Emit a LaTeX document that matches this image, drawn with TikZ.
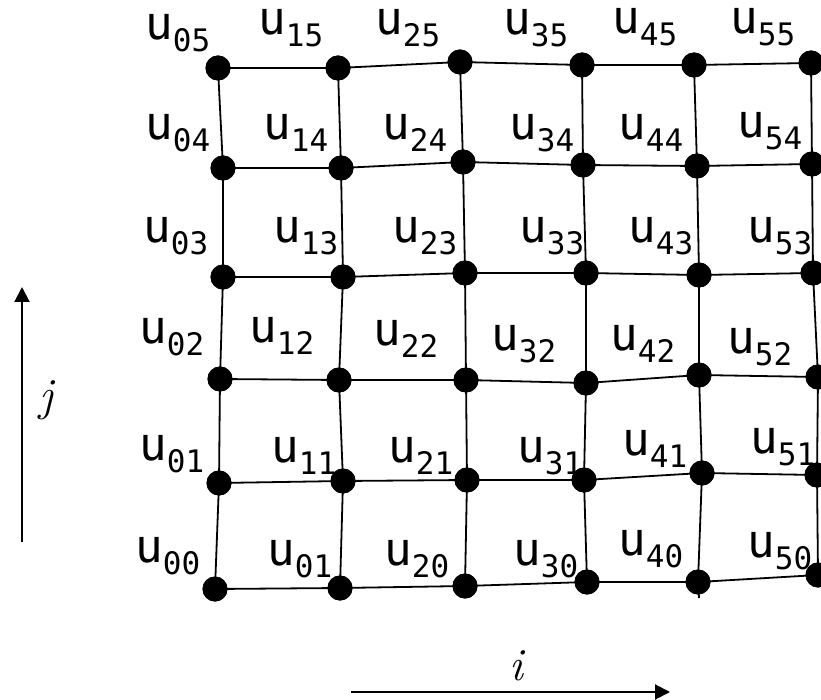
\documentclass[tikz,border=0pt]{standalone}
\usepackage{fontspec}
\newfontfamily\lblfont{DejaVu Sans Mono}
\usetikzlibrary{arrows.meta}
\newcommand{\ulab}[1]{u\raisebox{-12pt}{\fontsize{31}{31}\selectfont #1}}
\tikzset{
  dot/.style={circle,fill=black,inner sep=0pt,minimum size=25pt},
  gridline/.style={line width=1.8pt},
  lbl/.style={anchor=base west,inner sep=0pt,font=\lblfont\fontsize{46}{46}\selectfont},
  axis/.style={line width=2pt,-{Triangle[length=15pt,width=15pt]}},
  axlbl/.style={font=\fontsize{46}{46}\selectfont\itshape}
}
\begin{document}
\begin{tikzpicture}[x=1pt,y=-1pt]
\useasboundingbox (0,0) rectangle (821,700);
% dots
\node[dot] (p05) at (218,68) {};
\node[dot] (p15) at (338,68) {};
\node[dot] (p25) at (460,62) {};
\node[dot] (p35) at (582,65) {};
\node[dot] (p45) at (694,65) {};
\node[dot] (p55) at (811,63) {};
\node[dot] (p04) at (223,168) {};
\node[dot] (p14) at (341,168) {};
\node[dot] (p24) at (463,162) {};
\node[dot] (p34) at (583,165) {};
\node[dot] (p44) at (697,166) {};
\node[dot] (p54) at (812,164) {};
\node[dot] (p03) at (223,277) {};
\node[dot] (p13) at (343,277) {};
\node[dot] (p23) at (465,273) {};
\node[dot] (p33) at (586,273) {};
\node[dot] (p43) at (699,275) {};
\node[dot] (p53) at (813,273) {};
\node[dot] (p02) at (220,379) {};
\node[dot] (p12) at (339,380) {};
\node[dot] (p22) at (466,380) {};
\node[dot] (p32) at (586,383) {};
\node[dot] (p42) at (699,375) {};
\node[dot] (p52) at (818,377) {};
\node[dot] (p01) at (219,483) {};
\node[dot] (p11) at (343,481) {};
\node[dot] (p21) at (467,480) {};
\node[dot] (p31) at (584,480) {};
\node[dot] (p41) at (702,473) {};
\node[dot] (p51) at (817,475) {};
\node[dot] (p00) at (215,589) {};
\node[dot] (p10) at (340,588) {};
\node[dot] (p20) at (465,586) {};
\node[dot] (p30) at (587,582) {};
\node[dot] (p40) at (698,582) {};
\node[dot] (p50) at (818,575) {};
\coordinate (stub) at (699,598);
% grid lines
\foreach \r in {0,...,5}{
  \draw[gridline] (p0\r.center) -- (p1\r.center) -- (p2\r.center) -- (p3\r.center) -- (p4\r.center) -- (p5\r.center);
}
\foreach \c in {0,...,5}{
  \draw[gridline] (p\c0.center) -- (p\c1.center) -- (p\c2.center) -- (p\c3.center) -- (p\c4.center) -- (p\c5.center);
}
\draw[gridline] (p40.center) -- (stub);
% redraw dots on top
\foreach \c in {0,...,5}{\foreach \r in {0,...,5}{\fill (p\c\r) circle (12.5pt);}}
% labels
\node[lbl] (l05) at (145,40) {\ulab{05}};
\node[lbl] (l15) at (258,35) {\ulab{15}};
\node[lbl] (l25) at (375,35) {\ulab{25}};
\node[lbl] (l35) at (503,35) {\ulab{35}};
\node[lbl] (l45) at (612,34) {\ulab{45}};
\node[lbl] (l55) at (730,34) {\ulab{55}};
\node[lbl] (l04) at (145,140) {\ulab{04}};
\node[lbl] (l14) at (263,140) {\ulab{14}};
\node[lbl] (l24) at (382,140) {\ulab{24}};
\node[lbl] (l34) at (509,140) {\ulab{34}};
\node[lbl] (l44) at (618,140) {\ulab{44}};
\node[lbl] (l54) at (737,138) {\ulab{54}};
\node[lbl] (l03) at (143,243) {\ulab{03}};
\node[lbl] (l13) at (273,243) {\ulab{13}};
\node[lbl] (l23) at (392,243) {\ulab{23}};
\node[lbl] (l33) at (519,243) {\ulab{33}};
\node[lbl] (l43) at (628,243) {\ulab{43}};
\node[lbl] (l53) at (747,243) {\ulab{53}};
\node[lbl] (l02) at (139,343) {\ulab{02}};
\node[lbl] (l12) at (249,342) {\ulab{12}};
\node[lbl] (l22) at (373,345) {\ulab{22}};
\node[lbl] (l32) at (491,350) {\ulab{32}};
\node[lbl] (l42) at (610,350) {\ulab{42}};
\node[lbl] (l52) at (727,353) {\ulab{52}};
\node[lbl] (l01) at (139,460) {\ulab{01}};
\node[lbl] (l11) at (271,462) {\ulab{11}};
\node[lbl] (l21) at (388,462) {\ulab{21}};
\node[lbl] (l31) at (517,462) {\ulab{31}};
\node[lbl] (l41) at (622,455) {\ulab{41}};
\node[lbl] (l51) at (750,453) {\ulab{51}};
\node[lbl] (l00) at (135,562) {\ulab{00}};
\node[lbl] (l10) at (267,565) {\ulab{01}};
\node[lbl] (l20) at (384,565) {\ulab{20}};
\node[lbl] (l30) at (513,565) {\ulab{30}};
\node[lbl] (l40) at (618,555) {\ulab{40}};
\node[lbl] (l50) at (747,557) {\ulab{50}};
% axes
\coordinate (jfrom) at (22,542);
\coordinate (jto) at (22,287);
\draw[axis] (jfrom) -- (jto);
\node[axlbl] (jl) at (46,400) {j};
\coordinate (ifrom) at (351,692);
\coordinate (ito) at (670,692);
\draw[axis] (ifrom) -- (ito);
\node[axlbl] (il) at (516,666) {i};
\end{tikzpicture}
\end{document}
